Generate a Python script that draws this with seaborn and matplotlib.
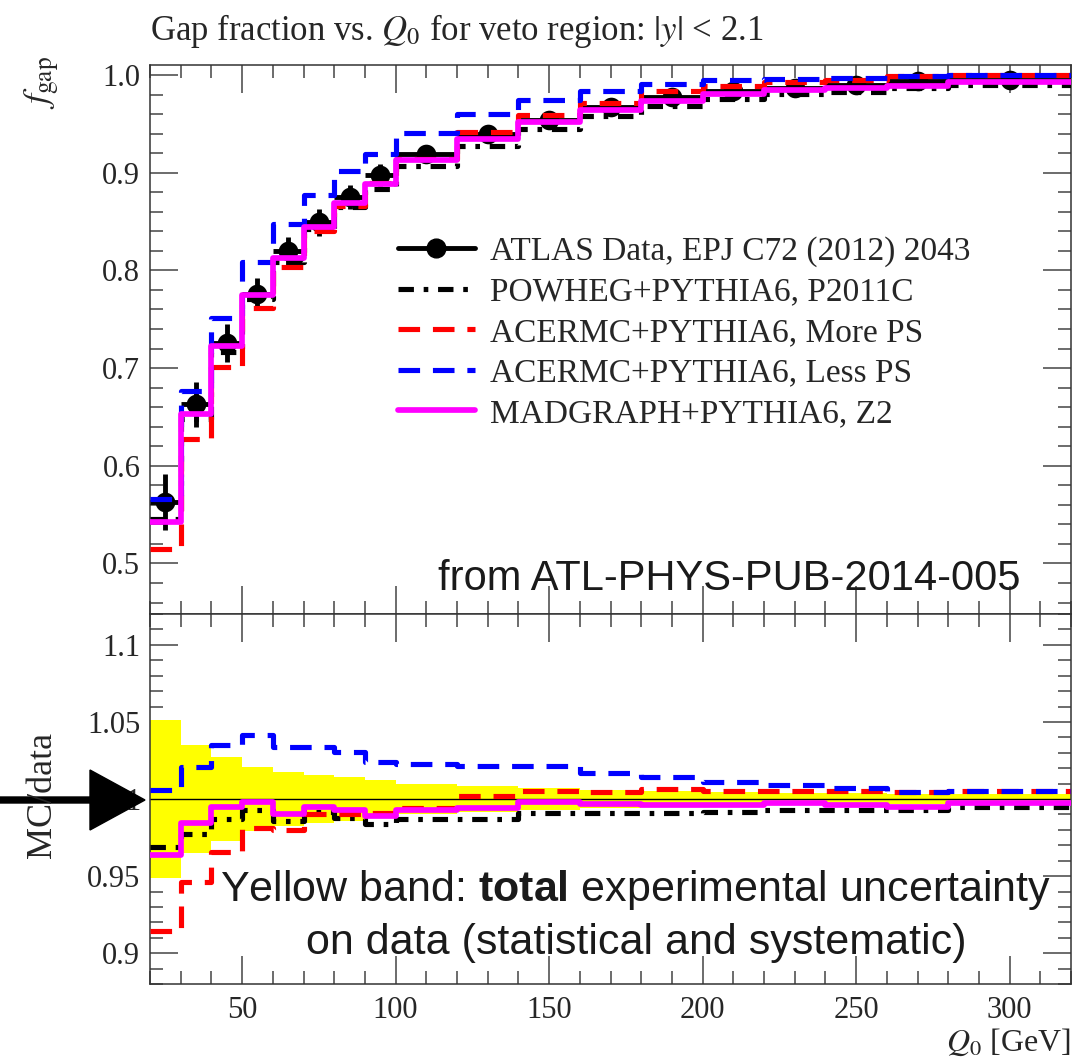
import numpy as np
import pandas as pd
import seaborn as sns
import matplotlib
matplotlib.use("Agg")
import matplotlib.pyplot as plt
from matplotlib.lines import Line2D
from matplotlib.patches import FancyArrow
from matplotlib.ticker import MultipleLocator, FuncFormatter

# ---------------- data ----------------
bin_edges = [20, 30, 40, 50, 60, 70, 80, 90, 100, 120, 140, 160, 180, 200, 220, 240, 260, 280, 320]
data_fgap = [0.563, 0.663, 0.726, 0.776, 0.820, 0.849, 0.875, 0.898, 0.919, 0.940,
             0.954, 0.967, 0.977, 0.984, 0.987, 0.990, 0.994, 0.995]
data_err = [0.0287, 0.0232, 0.0196, 0.0163, 0.0144, 0.0134, 0.0123, 0.0112, 0.0092, 0.0078,
            0.0069, 0.0058, 0.0049, 0.0044, 0.0039, 0.0037, 0.0035, 0.0033]
ratio_powheg = [0.969, 0.977, 0.987, 0.9927, 0.986, 0.9916, 0.988, 0.9836, 0.987, 0.987,
                0.9907, 0.9907, 0.9907, 0.9914, 0.993, 0.993, 0.993, 0.995]
ratio_acer_more = [0.9145, 0.946, 0.9657, 0.981, 0.980, 0.990, 0.990, 0.991, 0.9944, 1.0022,
                   1.0054, 1.0048, 1.0065, 1.005, 1.0054, 1.0054, 1.0048, 1.005]
ratio_acer_less = [1.0056, 1.0207, 1.0352, 1.0417, 1.0337, 1.0337, 1.0305, 1.024, 1.023, 1.0216,
                   1.0216, 1.0168, 1.014, 1.0108, 1.0093, 1.0069, 1.0048, 1.0054]
ratio_madgraph = [0.9635, 0.9847, 0.9948, 0.998, 0.9905, 0.9948, 0.9927, 0.9888, 0.993, 0.994,
                  0.998, 0.9967, 0.9963, 0.9963, 0.9972, 0.9963, 0.9946, 0.9976]

labels = ["ATLAS Data, EPJ C72 (2012) 2043",
          "POWHEG+PYTHIA6, P2011C",
          "ACERMC+PYTHIA6, More PS",
          "ACERMC+PYTHIA6, Less PS",
          "MADGRAPH+PYTHIA6, Z2"]

# ---------------- style ----------------
sns.set_theme(style="ticks")
plt.rcParams["font.family"] = ["Liberation Serif", "DejaVu Serif"]
plt.rcParams["mathtext.fontset"] = "stix"
plt.rcParams["mathtext.bf"] = "Liberation Sans:bold"
plt.rcParams["mathtext.rm"] = "Liberation Sans"
plt.rcParams["axes.edgecolor"] = "#333333"
plt.rcParams["axes.linewidth"] = 1.1

W, H = 1088, 1064
fig = plt.figure(figsize=(W / 100, H / 100), dpi=100)
L, R = 150, 1071
T1, B1, B2 = 65, 614, 984
ax1 = fig.add_axes([L / W, 1 - B1 / H, (R - L) / W, (B1 - T1) / H])
ax2 = fig.add_axes([L / W, 1 - B2 / H, (R - L) / W, (B2 - B1) / H], sharex=ax1)

edges = np.array(bin_edges, dtype=float)
centers = 0.5 * (edges[:-1] + edges[1:])
halfw = 0.5 * (edges[1:] - edges[:-1])
data = np.array(data_fgap)
derr = np.array(data_err)

models = [
    (np.array(ratio_powheg), "black", (0, (3.0, 1.9, 0.9, 1.9)), 3.7),
    (np.array(ratio_acer_more), "#ff0000", (0, (4.2, 2.5)), 3.7),
    (np.array(ratio_acer_less), "#0000ff", (0, (4.2, 2.5)), 3.7),
    (np.array(ratio_madgraph), "#ff00ff", "-", 4.1),
]

def ext(v):
    return np.append(v, v[-1])

# ---------------- upper panel ----------------
ax1.errorbar(centers, data, xerr=halfw, yerr=derr, fmt="none", ecolor="black",
             elinewidth=3.5, capsize=0, zorder=3)
sns.scatterplot(x=centers, y=data, color="black", s=200, edgecolor="black",
                linewidth=0, ax=ax1, zorder=4, legend=False)
for ratio, col, ls, lw in models:
    sns.lineplot(x=edges, y=ext(ratio * data), drawstyle="steps-post", color=col,
                 linestyle=ls, linewidth=lw, ax=ax1, errorbar=None, sort=False,
                 zorder=5, legend=False)

ax1.set_xlim(20, 320)
ax1.set_ylim(0.4483, 1.0102)

# ---------------- lower panel ----------------
rel = derr / data
ax2.fill_between(edges, 1 - ext(rel), 1 + ext(rel), step="post", color="#ffff00",
                 linewidth=0, zorder=1)
ax2.axhline(1.0, color="black", lw=1.0, zorder=2)
for ratio, col, ls, lw in models:
    sns.lineplot(x=edges, y=ext(ratio), drawstyle="steps-post", color=col,
                 linestyle=ls, linewidth=lw, ax=ax2, errorbar=None, sort=False,
                 zorder=5, legend=False)
ax2.set_ylim(0.88, 1.12)

# ---------------- ticks ----------------
for ax in (ax1, ax2):
    ax.set_xlabel("")
    ax.set_ylabel("")
    ax.xaxis.set_major_locator(MultipleLocator(50))
    ax.xaxis.set_minor_locator(MultipleLocator(10))
    ax.tick_params(which="both", direction="in", top=True, right=True,
                   color="#444444", width=1.1, labelsize=22)
    ax.tick_params(which="major", length=20)
    ax.tick_params(which="minor", length=9.5)
    ax.tick_params(axis="y", pad=7)
ax1.yaxis.set_major_locator(MultipleLocator(0.1))
ax1.yaxis.set_minor_locator(MultipleLocator(0.02))
ax1.yaxis.set_major_formatter(FuncFormatter(lambda v, p: f"{v:.1f}"))
ax1.tick_params(labelbottom=False)
ax2.yaxis.set_major_locator(MultipleLocator(0.05))
ax2.yaxis.set_minor_locator(MultipleLocator(0.01))
ax2.yaxis.set_major_formatter(FuncFormatter(lambda v, p: f"{round(v, 3):g}"))
ax2.tick_params(axis="x", pad=9)

# ---------------- legend ----------------
handles = [Line2D([], [], color="black", lw=3.5, marker="o", markersize=13.5)]
for ratio, col, ls, lw in models:
    handles.append(Line2D([], [], color=col, linestyle=ls, lw=lw))
ax1.legend(handles, labels, loc="upper left",
           bbox_to_anchor=((398 - L) / (R - L), (B1 - 236) / (B1 - T1)),
           frameon=False, fontsize=24, handlelength=2.3, handletextpad=0.45,
           labelspacing=0.3, borderpad=0, borderaxespad=0)

# ---------------- texts ----------------
fig.text(L / W, 1 - 40 / H, r"Gap fraction vs. $Q_0$ for veto region: $|y|$ < 2.1",
         fontsize=25, ha="left", va="baseline")
fig.text(42 / W, 1 - 82 / H, r"$f_{\mathrm{gap}}$", rotation=90, fontsize=26,
         ha="center", va="center", math_fontfamily="stix")
fig.text(42 / W, 1 - 795 / H, "MC/data", rotation=90, fontsize=26,
         ha="center", va="center")
fig.text(R / W, 1 - 1051 / H, r"$Q_0$ [GeV]", fontsize=23, ha="right", va="baseline")

ax1.text((1020 - L) / (R - L), (B1 - 590) / (B1 - T1), "from ATL-PHYS-PUB-2014-005",
         transform=ax1.transAxes, family="Liberation Sans", fontsize=30,
         ha="right", va="baseline", color="#1a1a1a")
ax2.text((636 - L) / (R - L), (B2 - 890) / (B2 - B1),
         r"Yellow band: $\mathbf{total}$ experimental uncertainty",
         transform=ax2.transAxes, family="Liberation Sans", fontsize=31,
         ha="center", va="center", color="#1a1a1a", math_fontfamily="custom")
ax2.text((636 - L) / (R - L), (B2 - 943) / (B2 - B1),
         "on data (statistical and systematic)",
         transform=ax2.transAxes, family="Liberation Sans", fontsize=31,
         ha="center", va="center", color="#1a1a1a")

# ---------------- arrow ----------------
arrow = FancyArrow(0.0, (H - 800) / 100, 1.45, 0.0, width=0.06, head_width=0.6,
                   head_length=0.55, length_includes_head=True, color="black",
                   transform=fig.dpi_scale_trans)
fig.add_artist(arrow)

fig.savefig("out.png", dpi=100)
